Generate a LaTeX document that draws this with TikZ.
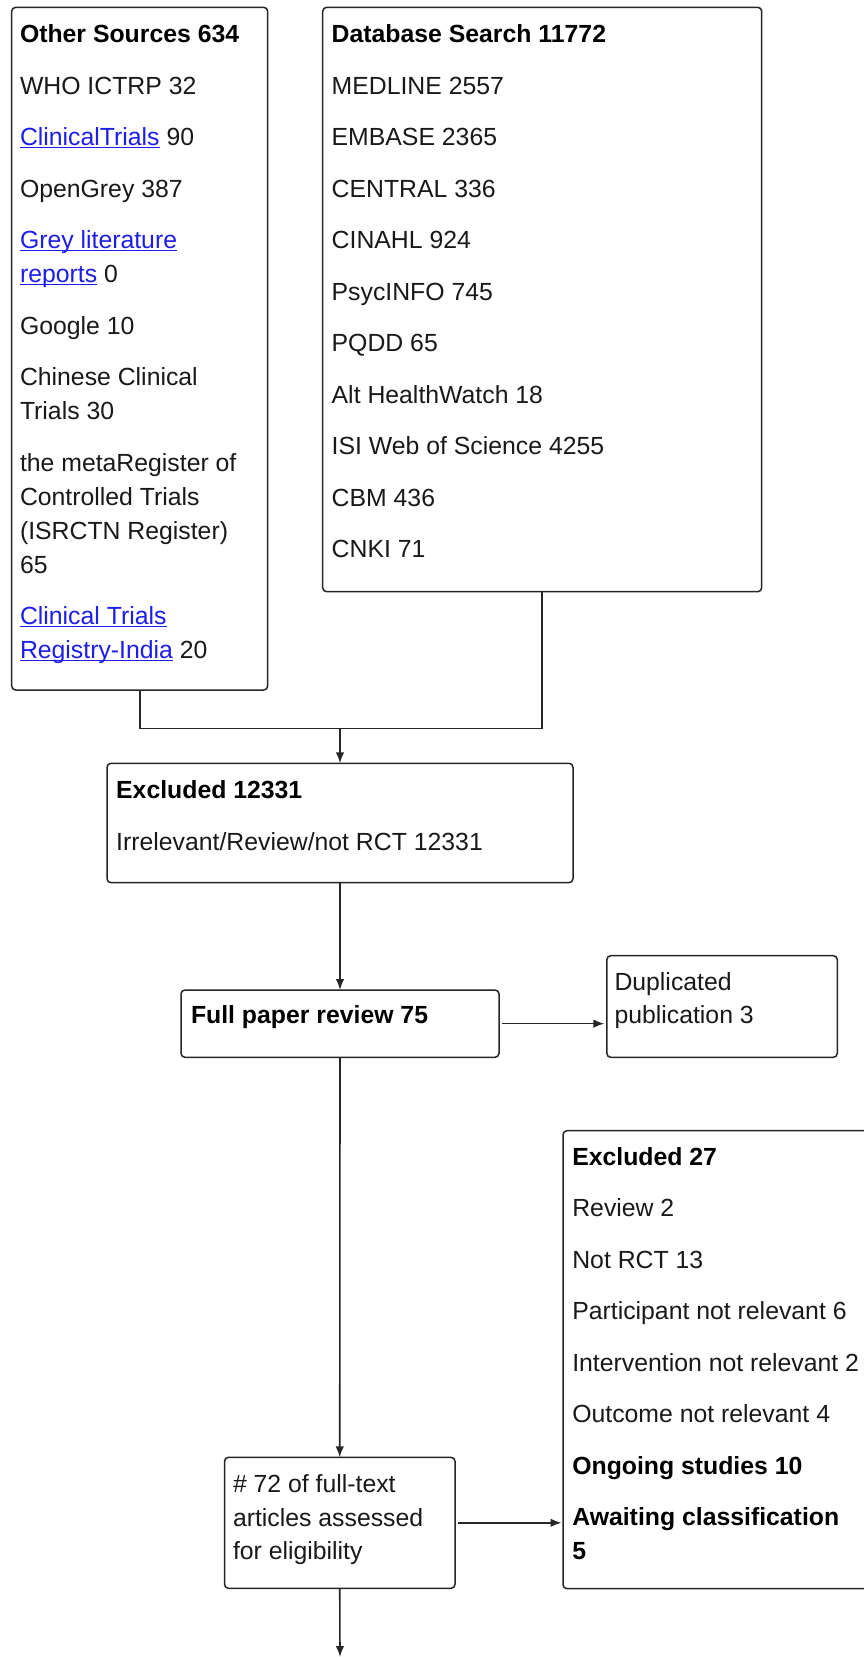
\documentclass[tikz,border=0pt]{standalone}
\usepackage{fontspec}
\setmainfont{Liberation Sans}
\usetikzlibrary{arrows.meta}
\definecolor{linkblue}{RGB}{30,30,235}
\definecolor{inkc}{RGB}{25,25,25}
\newlength\lnkw
\newcommand\lnk[1]{\settowidth\lnkw{#1}\rlap{\color{linkblue}\rule[-2.6pt]{\lnkw}{1.3pt}}\textcolor{linkblue}{#1}}
\tikzset{
  box/.style={draw=black!85, line width=1.5pt, rounded corners=4pt, inner sep=0pt, outer sep=0pt, anchor=north west},
  txt/.style={anchor=base west, inner sep=0pt, outer sep=0pt, text=inkc, font=\fontsize{24.8}{34}\selectfont},
  hd/.style={txt, text=black, font=\fontsize{24.8}{34}\selectfont\bfseries},
  conn/.style={draw=black!85, line width=1.6pt},
  arr/.style={conn, -{Latex[length=11pt,width=8.5pt]}}
}
\begin{document}
\begin{tikzpicture}[x=1pt,y=-1pt]
\useasboundingbox[fill=white] (0,0) rectangle (863,1657);
% boxes
\node[box, minimum width=256pt, minimum height=682.7pt] (oth) at (11.7,7.3) {};
\node[box, minimum width=439pt, minimum height=584.4pt] (db) at (322.7,7.3) {};
\node[box, minimum width=466pt, minimum height=119.4pt] (ex1) at (107,763.3) {};
\node[box, minimum width=318pt, minimum height=67.3pt] (fpr) at (181,990) {};
\node[box, minimum width=230.5pt, minimum height=101.6pt] (dup) at (606.8,955.7) {};
\node[box, minimum width=330pt, minimum height=458pt] (ex27) at (563,1130.7) {};
\node[box, minimum width=230.5pt, minimum height=131pt] (a72) at (224.5,1457.3) {};
% Other sources text
\node[hd] (o0) at (20,42.7) {Other Sources 634};
\node[txt] (o1) at (20,94.3) {WHO ICTRP 32};
\node[txt] (o2) at (20,145.8) {\lnk{ClinicalTrials} 90};
\node[txt] (o3) at (20,197.3) {OpenGrey 387};
\node[txt] (o4) at (20,248.8) {\lnk{Grey literature}};
\node[txt] (o5) at (20,282.8) {\lnk{reports} 0};
\node[txt] (o6) at (20,334.3) {Google 10};
\node[txt] (o7) at (20,385.8) {Chinese Clinical};
\node[txt] (o8) at (20,419.8) {Trials 30};
\node[txt] (o9) at (20,471.0) {the metaRegister of};
\node[txt] (o10) at (20,505.3) {Controlled Trials};
\node[txt] (o11) at (20,539.3) {(ISRCTN Register)};
\node[txt] (o12) at (20,573.3) {65};
\node[txt] (o13) at (20,624.8) {\lnk{Clinical Trials}};
\node[txt] (o14) at (20,658.8) {\lnk{Registry-India} 20};
% Database text
\node[hd] (d0) at (331.7,42.7) {Database Search 11772};
\node[txt] (d1) at (331.7,94.2) {MEDLINE 2557};
\node[txt] (d2) at (331.7,145.7) {EMBASE 2365};
\node[txt] (d3) at (331.7,197.2) {CENTRAL 336};
\node[txt] (d4) at (331.7,248.7) {CINAHL 924};
\node[txt] (d5) at (331.7,300.2) {PsycINFO 745};
\node[txt] (d6) at (331.7,351.7) {PQDD 65};
\node[txt] (d7) at (331.7,403.2) {Alt HealthWatch 18};
\node[txt] (d8) at (331.7,454.7) {ISI Web of Science 4255};
\node[txt] (d9) at (331.7,506.2) {CBM 436};
\node[txt] (d10) at (331.7,557.7) {CNKI 71};
% Excluded 12331
\node[hd] (e0) at (116.2,798.3) {Excluded 12331};
\node[txt] (e1) at (116.2,850) {Irrelevant/Review/not RCT 12331};
% Full paper review
\node[hd] (f0) at (191,1023.5) {Full paper review 75};
% Duplicated
\node[txt] (u0) at (614.5,990) {Duplicated};
\node[txt] (u1) at (614.5,1023.5) {publication 3};
% Excluded 27
\node[hd] (x0) at (572.3,1165) {Excluded 27};
\node[txt] (x1) at (572.3,1216.5) {Review 2};
\node[txt] (x2) at (572.3,1268) {Not RCT 13};
\node[txt] (x3) at (572.3,1319.5) {Participant not relevant 6};
\node[txt] (x4) at (572.3,1371) {Intervention not relevant 2};
\node[txt] (x5) at (572.3,1422.5) {Outcome not relevant 4};
\node[hd] (x6) at (572.3,1474) {Ongoing studies 10};
\node[hd] (x7) at (572.3,1525.5) {Awaiting classification};
\node[hd] (x8) at (572.3,1559.5) {5};
% 72 box
\node[txt] (a0) at (233,1492.7) {\# 72 of full-text};
\node[txt] (a1) at (233,1526.2) {articles assessed};
\node[txt] (a2) at (233,1559.5) {for eligibility};
% connectors
\coordinate (j) at (340,728.3);
\coordinate (bot) at (340,1657);
\draw[conn] (oth.south) -- (oth.south |- j) -- (db.south |- j) -- (db.south);
\draw[arr] (j) -- (ex1.north);
\draw[arr] (ex1.south) -- (fpr.north);
\draw[arr] ([xshift=3pt]fpr.east) -- ([xshift=-2.5pt]dup.west |- fpr.east);
\draw[arr] (fpr.south) -- (a72.north);
\draw[arr] ([xshift=3pt]a72.east) -- ([xshift=-1.5pt]ex27.west |- a72.east);
\draw[arr] (a72.south) -- (bot);
\end{tikzpicture}
\end{document}
